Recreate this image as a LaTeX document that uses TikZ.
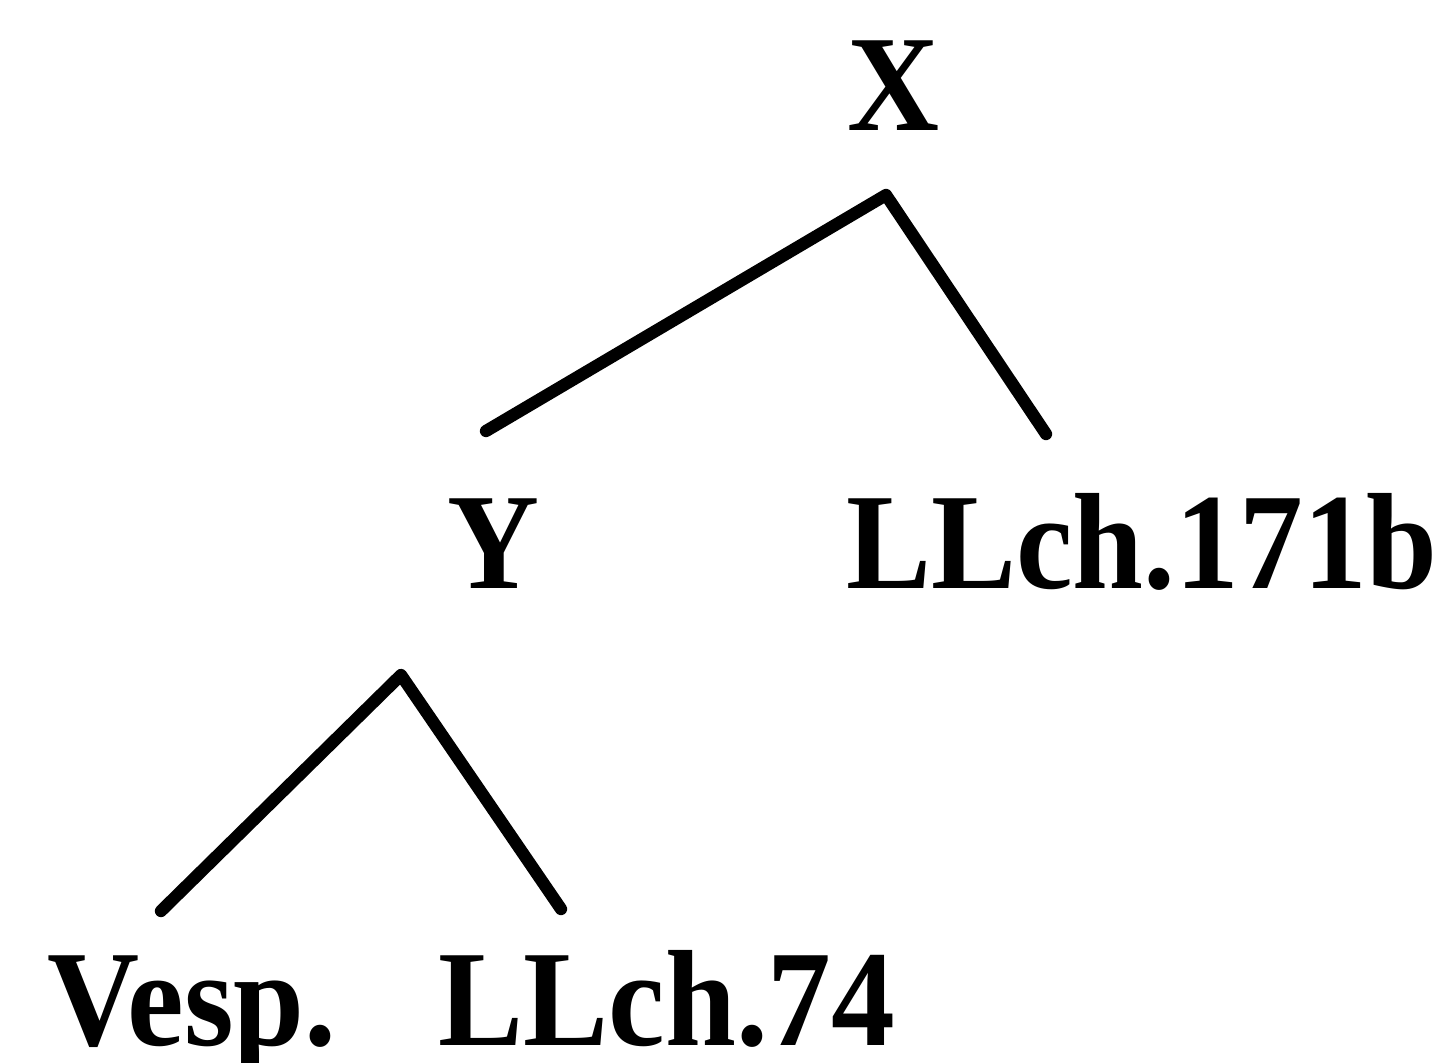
\documentclass[tikz,border=0pt]{standalone}
\usepackage{fontspec}
\setmainfont[FakeStretch=0.93]{Liberation Serif}
\begin{document}
\begin{tikzpicture}[x=0.02cm,y=-0.02cm,
  lbl/.style={inner sep=0pt, anchor=base, font=\bfseries\fontsize{78}{84}\selectfont},
  branch/.style={line width=7pt, line cap=round, line join=round}]
\useasboundingbox (0,0) rectangle (1449,1062);
% labels
\node[lbl] (x) at (894,130) {X};
\node[lbl] (y) at (494,588) {Y};
\node[lbl] (llb) at (1142,588) {LLch.171b};
\node[lbl] (vesp) at (192,1045) {Vesp.};
\node[lbl] (ll74) at (667,1045) {LLch.74};
% branch points
\coordinate (xtop) at (886,195);
\coordinate (xleft) at (486,431);
\coordinate (xright) at (1046,434);
\coordinate (ytop) at (401,675);
\coordinate (yleft) at (161,911);
\coordinate (yright) at (561,909);
\draw[branch] (xleft) -- (xtop) -- (xright);
\draw[branch] (yleft) -- (ytop) -- (yright);
\end{tikzpicture}
\end{document}
